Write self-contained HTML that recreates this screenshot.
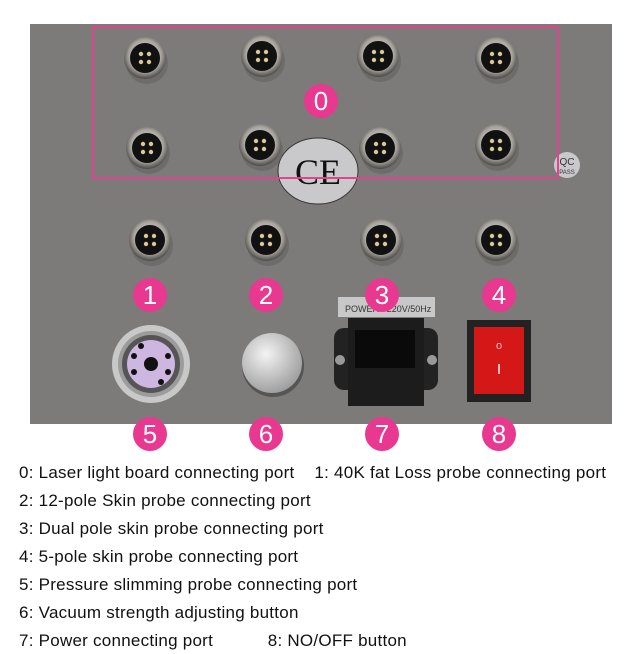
<!DOCTYPE html>
<html><head><style>
body{margin:0;background:#fff;width:638px;height:654px;overflow:hidden;position:relative;font-family:"Liberation Sans",sans-serif}
.t{position:absolute;left:19px;font-size:17px;letter-spacing:0.25px;color:#111;white-space:pre}
</style></head><body>
<svg width="638" height="460" style="position:absolute;left:0;top:0">
<defs>
<radialGradient id="conn" cx="50%" cy="45%" r="55%"><stop offset="0" stop-color="#eee"/><stop offset="0.7" stop-color="#a8a49e"/><stop offset="1" stop-color="#4a4845"/></radialGradient>
<radialGradient id="knob" cx="40%" cy="35%" r="70%"><stop offset="0" stop-color="#f4f4f4"/><stop offset="1" stop-color="#9a9a9a"/></radialGradient>
<g id="c"><ellipse cx="2" cy="5" rx="21" ry="21" fill="#5f5d5b" opacity="0.5"/><circle r="21" fill="url(#conn)"/><circle r="15" fill="#111"/><circle cx="-4" cy="-4" r="2.2" fill="#d8c89a"/><circle cx="4" cy="-4" r="2.2" fill="#d8c89a"/><circle cx="-4" cy="4" r="2.2" fill="#d8c89a"/><circle cx="4" cy="4" r="2.2" fill="#d8c89a"/></g>
</defs>
<rect x="30" y="24" width="582" height="400" fill="#7d7b79"/>
<ellipse cx="318" cy="171" rx="40" ry="33" fill="#c9c9cb" stroke="#333" stroke-width="1"/>
<text x="318" y="184" font-size="36" text-anchor="middle" font-family="Liberation Serif" fill="#111">CE</text>
<circle cx="567" cy="165" r="13" fill="#c9c9cb"/>
<text x="567" y="165" font-size="10" text-anchor="middle" fill="#333">QC</text>
<text x="567" y="174" font-size="6" text-anchor="middle" fill="#333">PASS</text>
<use href="#c" x="145" y="58"/><use href="#c" x="262" y="56"/><use href="#c" x="378" y="56"/><use href="#c" x="496" y="58"/>
<use href="#c" x="147" y="148"/><use href="#c" x="260" y="145"/><use href="#c" x="380" y="148"/><use href="#c" x="496" y="145"/>
<use href="#c" x="150" y="240"/><use href="#c" x="266" y="240"/><use href="#c" x="381" y="240"/><use href="#c" x="496" y="240"/>
<rect x="93" y="27" width="465" height="151" fill="none" stroke="#e0448f" stroke-width="2"/>
<circle cx="151" cy="364" r="39" fill="#c8c8c8"/><circle cx="151" cy="364" r="33" fill="#9c9c9c"/><circle cx="151" cy="364" r="29" fill="#555"/><circle cx="151" cy="364" r="24" fill="#cdb6df"/><circle cx="151" cy="364" r="7" fill="#111"/>
<g fill="#111"><circle cx="134" cy="356" r="3"/><circle cx="134" cy="372" r="3"/><circle cx="168" cy="356" r="3"/><circle cx="168" cy="372" r="3"/><circle cx="141" cy="346" r="3"/><circle cx="161" cy="382" r="3"/></g>
<circle cx="273" cy="366" r="31" fill="#555"/><circle cx="272" cy="363" r="30" fill="url(#knob)"/>
<rect x="338" y="297" width="97" height="20" fill="#c8c8c8"/>
<text x="345" y="312" font-size="9" fill="#333">POWER ~220V/50Hz</text>
<rect x="334" y="328" width="104" height="62" rx="10" fill="#222"/>
<rect x="348" y="318" width="76" height="88" fill="#1c1c1c"/>
<rect x="355" y="330" width="60" height="38" fill="#0a0a0a"/>
<circle cx="340" cy="360" r="5" fill="#999"/><circle cx="432" cy="360" r="5" fill="#999"/>
<rect x="467" y="320" width="64" height="82" fill="#222"/>
<rect x="474" y="327" width="50" height="67" fill="#d41818"/>
<text x="499" y="349" font-size="11" text-anchor="middle" fill="#fbb">o</text>
<rect x="498" y="364" width="2" height="10" fill="#fbb"/>
<g fill="#e8388f"><circle cx="321" cy="101" r="17"/><circle cx="150" cy="295" r="17"/><circle cx="266" cy="295" r="17"/><circle cx="382" cy="295" r="17"/><circle cx="499" cy="295" r="17"/>
<circle cx="150" cy="434" r="17"/><circle cx="266" cy="434" r="17"/><circle cx="382" cy="434" r="17"/><circle cx="499" cy="434" r="17"/></g>
<g fill="#fff" font-size="26" text-anchor="middle" font-family="Liberation Sans">
<text x="321" y="110">0</text><text x="150" y="304">1</text><text x="266" y="304">2</text><text x="382" y="304">3</text><text x="499" y="304">4</text>
<text x="150" y="443">5</text><text x="266" y="443">6</text><text x="382" y="443">7</text><text x="499" y="443">8</text></g>
</svg>
<div class="t" style="top:463px">0: Laser light board connecting port    1: 40K fat Loss probe connecting port</div>
<div class="t" style="top:491px">2: 12-pole Skin probe connecting port</div>
<div class="t" style="top:519px">3: Dual pole skin probe connecting port</div>
<div class="t" style="top:547px">4: 5-pole skin probe connecting port</div>
<div class="t" style="top:575px">5: Pressure slimming probe connecting port</div>
<div class="t" style="top:603px">6: Vacuum strength adjusting button</div>
<div class="t" style="top:631px">7: Power connecting port           8: NO/OFF button</div>
</body></html>
